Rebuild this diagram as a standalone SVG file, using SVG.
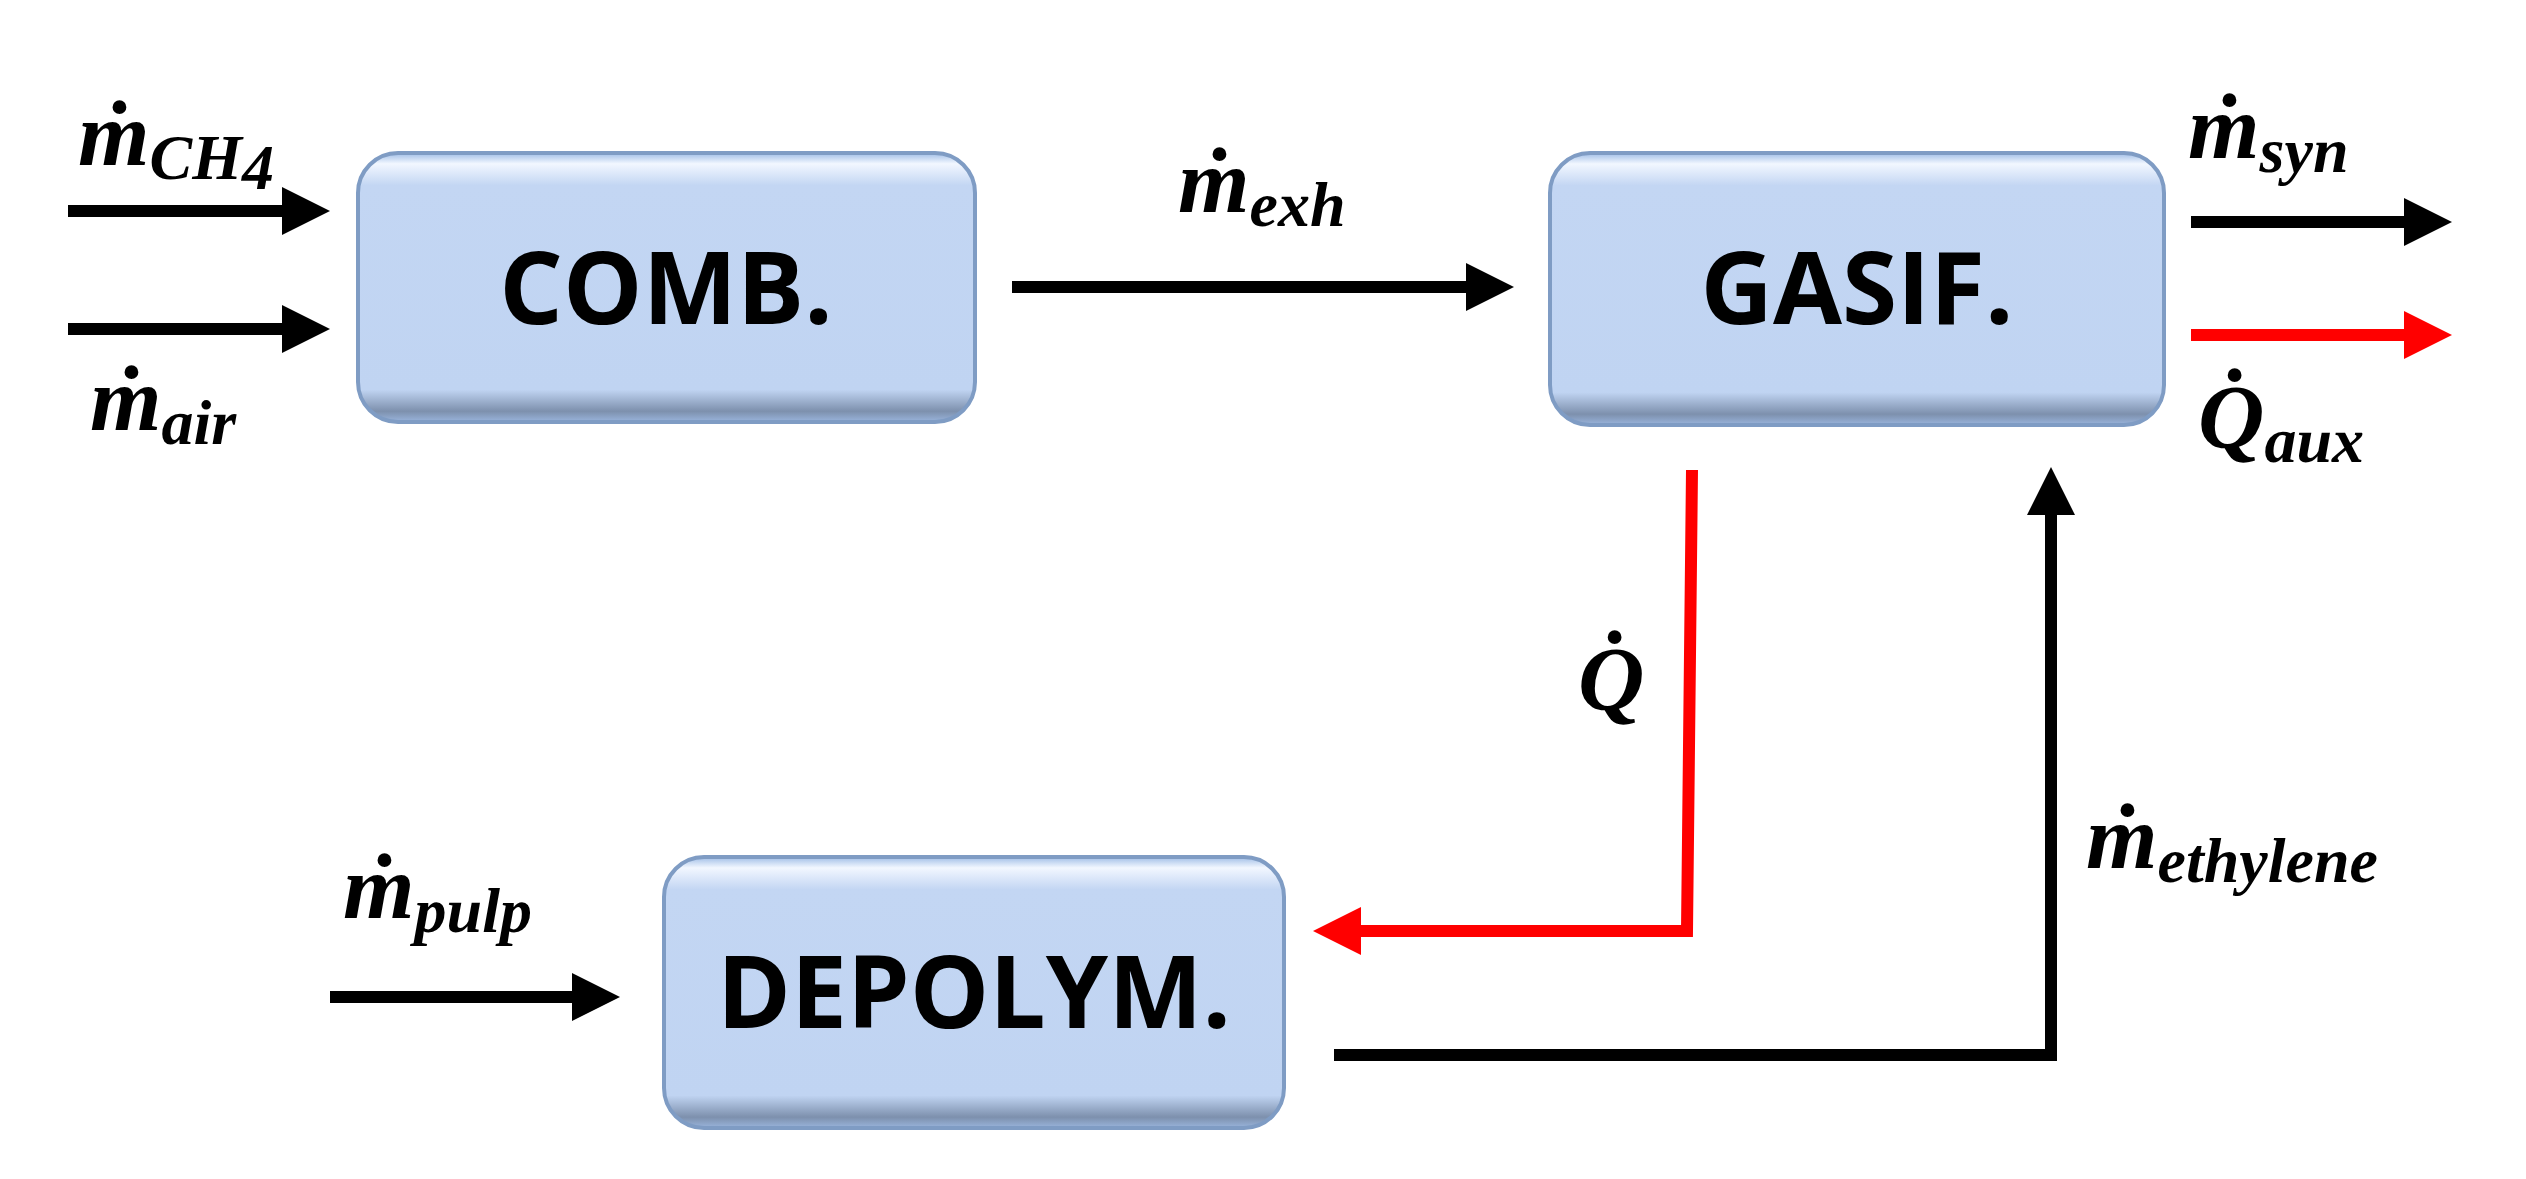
<svg xmlns="http://www.w3.org/2000/svg" width="2526" height="1179" viewBox="0 0 2526 1179">
<defs>
<linearGradient id="g" x1="0" y1="0" x2="0" y2="1">
<stop offset="0" stop-color="#9fbde6"/><stop offset="0.04" stop-color="#f2f7ff"/><stop offset="0.12" stop-color="#c3d6f3"/><stop offset="0.88" stop-color="#c0d4f2"/><stop offset="0.96" stop-color="#7d90ad"/><stop offset="1" stop-color="#9ab5dd"/>
</linearGradient>
<marker id="ab" viewBox="0 0 10 10" refX="0" refY="5" markerWidth="4" markerHeight="4.4" orient="auto" markerUnits="strokeWidth"><path d="M0,0 L10,5 L0,10 z" fill="#000"/></marker>
<marker id="ar" viewBox="0 0 10 10" refX="0" refY="5" markerWidth="4" markerHeight="4.4" orient="auto" markerUnits="strokeWidth"><path d="M0,0 L10,5 L0,10 z" fill="#ff0000"/></marker>
</defs>
<style>
.box{fill:url(#g);stroke:#7f9cc4;stroke-width:4}
.bt{font-family:"Open Sans","Noto Sans",sans-serif;font-weight:bold;font-size:100px;fill:#000;text-anchor:middle}
.m{font-family:"Liberation Serif",serif;font-style:italic;font-weight:bold;font-size:92px;fill:#000}
.s{font-size:64px}
.k{fill:none;stroke:#000;stroke-width:12}
.r{fill:none;stroke:#ff0000;stroke-width:12}
</style>
<rect width="2526" height="1179" fill="#fff"/>
<g id="comb"><rect class="box" x="358" y="153" width="617" height="269" rx="40"/><text class="bt" x="666" y="324">COMB.</text></g>
<g id="gasif"><rect class="box" x="1550" y="153" width="614" height="272" rx="40"/><text class="bt" x="1857" y="324">GASIF.</text></g>
<g id="depolym"><rect class="box" x="664" y="857" width="620" height="271" rx="40"/><text class="bt" x="974" y="1028">DEPOLYM.</text></g>
<g id="connectors">
<path class="k" d="M68,211 H282" marker-end="url(#ab)"/>
<path class="k" d="M68,329 H282" marker-end="url(#ab)"/>
<path class="k" d="M1012,287 H1466" marker-end="url(#ab)"/>
<path class="k" d="M2191,222 H2404" marker-end="url(#ab)"/>
<path class="r" d="M2191,335 H2404" marker-end="url(#ar)"/>
<path class="r" d="M1692,470 L1687,931 H1361" marker-end="url(#ar)"/>
<path class="k" d="M1334,1055 H2051 V515" marker-end="url(#ab)"/>
<path class="k" d="M330,997 H572" marker-end="url(#ab)"/>
</g>
<g id="labels">
<text class="m" x="78" y="165">ṁ<tspan class="s" dy="14">CH</tspan><tspan class="s" font-size="48" dy="10">4</tspan></text>
<text class="m" x="90" y="430">ṁ<tspan class="s" dy="14">air</tspan></text>
<text class="m" x="1178" y="212">ṁ<tspan class="s" dy="14">exh</tspan></text>
<text class="m" x="2188" y="158">ṁ<tspan class="s" dy="14">syn</tspan></text>
<text class="m" x="2198" y="448">Q̇<tspan class="s" dy="14">aux</tspan></text>
<text class="m" x="1578" y="710">Q̇</text>
<text class="m" x="2086" y="868">ṁ<tspan class="s" dy="14">ethylene</tspan></text>
<text class="m" x="343" y="918">ṁ<tspan class="s" dy="14">pulp</tspan></text>
</g>
</svg>
